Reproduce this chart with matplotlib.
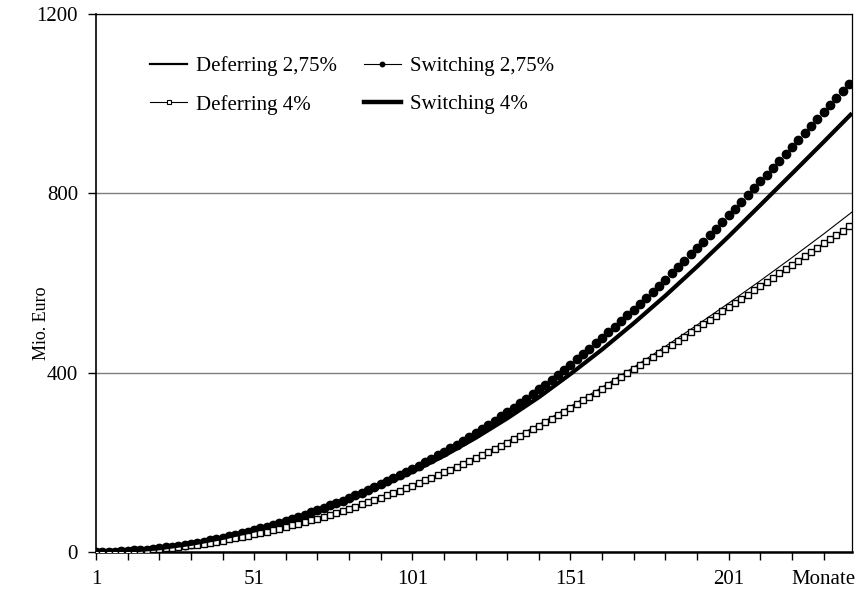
import numpy as np
import matplotlib
matplotlib.use("Agg")
import matplotlib.pyplot as plt
from matplotlib.lines import Line2D

plt.rcParams['font.family'] = ['Liberation Serif', 'DejaVu Serif']

# months on the axis; marker series are sampled every second month
months_marker = np.arange(1, 240, 2)
months_line = [1, 11, 21, 31, 41, 51, 61, 71, 81, 91, 101, 111, 121,
               131, 141, 151, 161, 171, 181, 191, 201, 211, 221, 231, 240]

# cumulative amounts in Mio. Euro
switching_275 = [
    0.0, 0.2, 0.5, 1.0, 1.6, 2.3, 3.3, 4.3, 5.5, 6.9,
    8.4, 10.0, 11.8, 13.8, 15.9, 18.1, 20.5, 23.1, 25.8, 28.6,
    31.6, 34.8, 38.0, 41.5, 45.0, 48.7, 52.6, 56.5, 60.7, 64.9,
    69.3, 73.9, 78.5, 83.3, 88.2, 93.3, 98.5, 103.8, 109.2, 114.8,
    120.5, 126.3, 132.3, 138.4, 144.7, 151.1, 157.6, 164.3, 171.1, 178.1,
    185.2, 192.4, 199.9, 207.5, 215.3, 223.2, 231.3, 239.6, 248.1, 256.7,
    265.5, 274.5, 283.6, 292.9, 302.4, 312.1, 321.9, 331.9, 342.0, 352.4,
    362.9, 373.5, 384.4, 395.4, 406.6, 417.9, 429.4, 441.1, 453.0, 465.0,
    477.2, 489.6, 502.1, 514.7, 527.5, 540.5, 553.6, 566.8, 580.2, 593.8,
    607.5, 621.3, 635.2, 649.3, 663.5, 677.8, 692.2, 706.7, 721.4, 736.2,
    751.1, 766.0, 781.1, 796.1, 811.3, 826.5, 841.7, 857.1, 872.4, 887.9,
    903.4, 918.9, 934.4, 949.9, 965.5, 981.0, 996.6, 1012.2, 1027.7, 1043.3,
]
deferring_4 = [
    0.0, 0.2, 0.4, 0.8, 1.3, 2.0, 2.7, 3.5, 4.5, 5.6,
    6.8, 8.1, 9.6, 11.1, 12.8, 14.6, 16.5, 18.6, 20.7, 23.0,
    25.4, 27.9, 30.5, 33.3, 36.1, 39.0, 42.1, 45.3, 48.6, 51.9,
    55.4, 59.1, 62.8, 66.6, 70.5, 74.6, 78.8, 83.0, 87.4, 91.9,
    96.5, 101.2, 106.0, 110.9, 115.9, 121.0, 126.2, 131.5, 136.9, 142.4,
    148.0, 153.7, 159.5, 165.4, 171.4, 177.5, 183.7, 190.0, 196.4, 202.9,
    209.5, 216.2, 223.0, 230.0, 237.0, 244.1, 251.4, 258.8, 266.3, 273.8,
    281.5, 289.3, 297.2, 305.2, 313.2, 321.4, 329.6, 338.0, 346.4, 354.9,
    363.5, 372.2, 380.9, 389.7, 398.5, 407.4, 416.4, 425.4, 434.5, 443.6,
    452.8, 462.0, 471.3, 480.5, 489.8, 499.1, 508.4, 517.8, 527.1, 536.5,
    545.9, 555.3, 564.7, 574.2, 583.6, 593.0, 602.5, 612.0, 621.5, 630.9,
    640.4, 650.0, 659.5, 669.0, 678.5, 688.1, 697.7, 707.2, 716.8, 726.4,
]
deferring_275 = [0.0, 2.0, 6.9, 14.8, 25.7, 39.4, 55.9, 75.3, 97.4, 122.1,
                 149.3, 179.1, 211.4, 246.4, 284.3, 324.7, 367.5, 412.2, 458.6,
                 506.1, 554.9, 605.0, 656.4, 709.1, 758.2]
switching_4 = [0.0, 2.3, 8.3, 18.0, 31.3, 48.0, 68.0, 91.1, 117.2, 146.4,
               178.7, 214.6, 254.4, 298.0, 345.1, 397.0, 451.7, 510.2, 571.6,
               636.4, 703.8, 773.6, 843.7, 914.3, 978.6]

labels = ["Deferring 2,75%", "Switching 2,75%", "Deferring 4%", "Switching 4%"]
y_ticks = [0, 400, 800, 1200]
x_label_ticks = [1, 51, 101, 151, 201, 231]
x_label_text = ["1", "51", "101", "151", "201", "Monate"]

fig = plt.figure(figsize=(8.55, 5.99), dpi=100)
ax = fig.add_axes([0.1123, 0.0785, 0.8842, 0.8982])

ax.plot(months_line, deferring_275, color="black", lw=0.8, zorder=3)
ax.plot(months_marker, switching_275, linestyle="none", marker="o", ms=6.0,
        color="black", zorder=3)
ax.plot(months_marker, deferring_4, color="black", lw=0.6, marker="s", ms=5.0,
        mfc="white", mec="black", mew=1.0, zorder=4)
ax.plot(months_line, switching_4, color="black", lw=3.0, zorder=5,
        solid_capstyle="butt")

ax.set_xlim(1, 240)
ax.set_ylim(0, 1200)
ax.set_yticks(y_ticks)
ax.set_xticks(x_label_ticks)
ax.set_xticklabels(x_label_text)
ax.set_xticks(range(1, 240, 10), minor=True)
ax.tick_params(axis="both", which="both", direction="out", length=6,
               width=1.0, color="black", labelsize=15)
ax.tick_params(axis="x", which="major", pad=7)
ax.tick_params(axis="y", which="major", pad=7)

ax.yaxis.grid(True, color="#7f7f7f", lw=1.0)
ax.set_axisbelow(True)
for side in ["top", "right"]:
    ax.spines[side].set_linewidth(0.9)
ax.spines["left"].set_linewidth(1.2)
ax.spines["bottom"].set_linewidth(1.8)

ax.set_ylabel("Mio. Euro", fontsize=13)
ax.yaxis.set_label_coords(-0.061, 0.426)

# legend handles drawn separately so the markers stay small
handles = [
    Line2D([], [], color="black", lw=1.6),
    Line2D([], [], color="black", lw=0.8, marker="s", ms=3.5, mfc="white", mew=0.8),
    Line2D([], [], color="black", lw=0.8, marker="o", ms=3.2),
    Line2D([], [], color="black", lw=3.2),
]
ax.legend(handles, [labels[0], labels[2], labels[1], labels[3]], ncol=2,
          frameon=False, loc="upper left", bbox_to_anchor=(0.058, 0.941),
          borderpad=0, fontsize=15, handlelength=1.75, handletextpad=0.45,
          columnspacing=1.3, labelspacing=0.9)

fig.savefig("out.png", dpi=100)
